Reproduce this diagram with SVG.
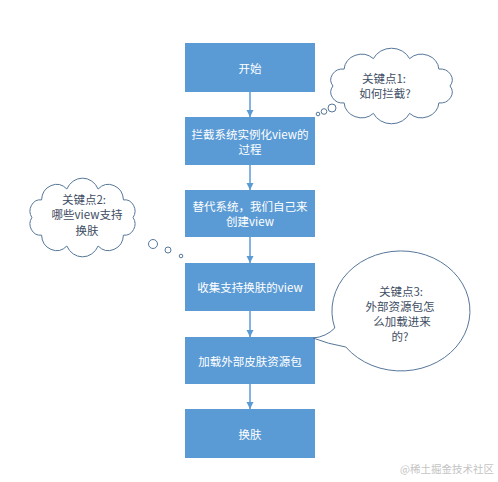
<svg xmlns="http://www.w3.org/2000/svg" width="498" height="482" viewBox="0 0 498 482">
<style>
.box{fill:#5B9BD5;}
.bt{fill:#ffffff;font-family:"Noto Sans CJK SC","Liberation Sans",sans-serif;font-size:11.5px;text-anchor:middle;dominant-baseline:central;}
.ct{fill:#3E4D63;font-family:"Noto Sans CJK SC","Liberation Sans",sans-serif;font-size:11.5px;text-anchor:middle;dominant-baseline:central;}
.cl{fill:#ffffff;stroke:#56779A;stroke-width:1;}
.ln{stroke:#5B9BD5;stroke-width:1.5;fill:none;}
.wm{fill:#C4C4C4;font-family:"Noto Sans CJK SC","Liberation Sans",sans-serif;font-size:10.5px;}
</style>
<defs>
<marker id="ah" viewBox="0 0 10 10" refX="10" refY="5" markerWidth="5" markerHeight="5" orient="auto" markerUnits="strokeWidth">
<path d="M0,0 L10,5 L0,10 Z" fill="#5B9BD5"/>
</marker>
<path id="cloud" d="M 6,30 A 9,9 0 0 1 14.4,15.9 A 13,13 0 0 1 36.4,7.2 A 15,15 0 0 1 63.6,7.2 A 13,13 0 0 1 85.6,15.9 A 9,9 0 0 1 94,30 A 9,9 0 0 1 85.6,44.1 A 13,13 0 0 1 63.6,52.8 A 15,15 0 0 1 36.4,52.8 A 13,13 0 0 1 14.4,44.1 A 9,9 0 0 1 6,30 Z" vector-effect="non-scaling-stroke"/>
</defs>
<rect width="498" height="482" fill="#ffffff"/>
<g id="connectors">
<line class="ln" x1="250" y1="92" x2="250" y2="117" marker-end="url(#ah)"/>
<line class="ln" x1="250" y1="165" x2="250" y2="190" marker-end="url(#ah)"/>
<line class="ln" x1="250" y1="237" x2="250" y2="263" marker-end="url(#ah)"/>
<line class="ln" x1="250" y1="311" x2="250" y2="337" marker-end="url(#ah)"/>
<line class="ln" x1="250" y1="384" x2="250" y2="409" marker-end="url(#ah)"/>
</g>
<g id="n1"><rect class="box" x="185" y="43" width="130" height="49"/><text class="bt" x="250" y="67.5">开始</text></g>
<g id="n2"><rect class="box" x="185" y="117" width="130" height="48"/><text class="bt" x="250" y="133.5">拦截系统实例化view的</text><text class="bt" x="250" y="149">过程</text></g>
<g id="n3"><rect class="box" x="185" y="190" width="130" height="47"/><text class="bt" x="250" y="205.5">替代系统，我们自己来</text><text class="bt" x="250" y="220.5">创建view</text></g>
<g id="n4"><rect class="box" x="185" y="263" width="130" height="48"/><text class="bt" x="250" y="287">收集支持换肤的view</text></g>
<g id="n5"><rect class="box" x="185" y="337" width="130" height="47"/><text class="bt" x="250" y="361">加载外部皮肤资源包</text></g>
<g id="n6"><rect class="box" x="185" y="409" width="130" height="49"/><text class="bt" x="250" y="434">换肤</text></g>
<g id="c1">
<use href="#cloud" class="cl" transform="translate(325,50) scale(1.33,1.2)"/>
<circle class="cl" cx="332" cy="108" r="4"/>
<circle class="cl" cx="324" cy="111.5" r="2.8"/>
<circle class="cl" cx="318" cy="114" r="1.8"/>
<text class="ct" x="384" y="78">关键点1:</text>
<text class="ct" x="385" y="93">如何拦截?</text>
</g>
<g id="c2">
<use href="#cloud" class="cl" transform="translate(25,180) scale(1.15,1.25)"/>
<circle class="cl" cx="153" cy="244" r="4.5"/>
<circle class="cl" cx="168" cy="250" r="3"/>
<circle class="cl" cx="181" cy="256" r="1.8"/>
<text class="ct" x="84" y="199">关键点2:</text>
<text class="ct" x="87" y="214">哪些view支持</text>
<text class="ct" x="87" y="230">换肤</text>
</g>
<g id="c3">
<path class="cl" d="M 334.8,328 A 69,60 0 1 1 345.8,347 Q 328,344 313,338 Q 326,337 334.8,328 Z"/>
<text class="ct" x="401" y="291">关键点3:</text>
<text class="ct" x="400" y="306">外部资源包怎</text>
<text class="ct" x="402" y="321">么加载进来</text>
<text class="ct" x="400" y="336">的?</text>
</g>
<text class="wm" x="400" y="473">@稀土掘金技术社区</text>
</svg>
